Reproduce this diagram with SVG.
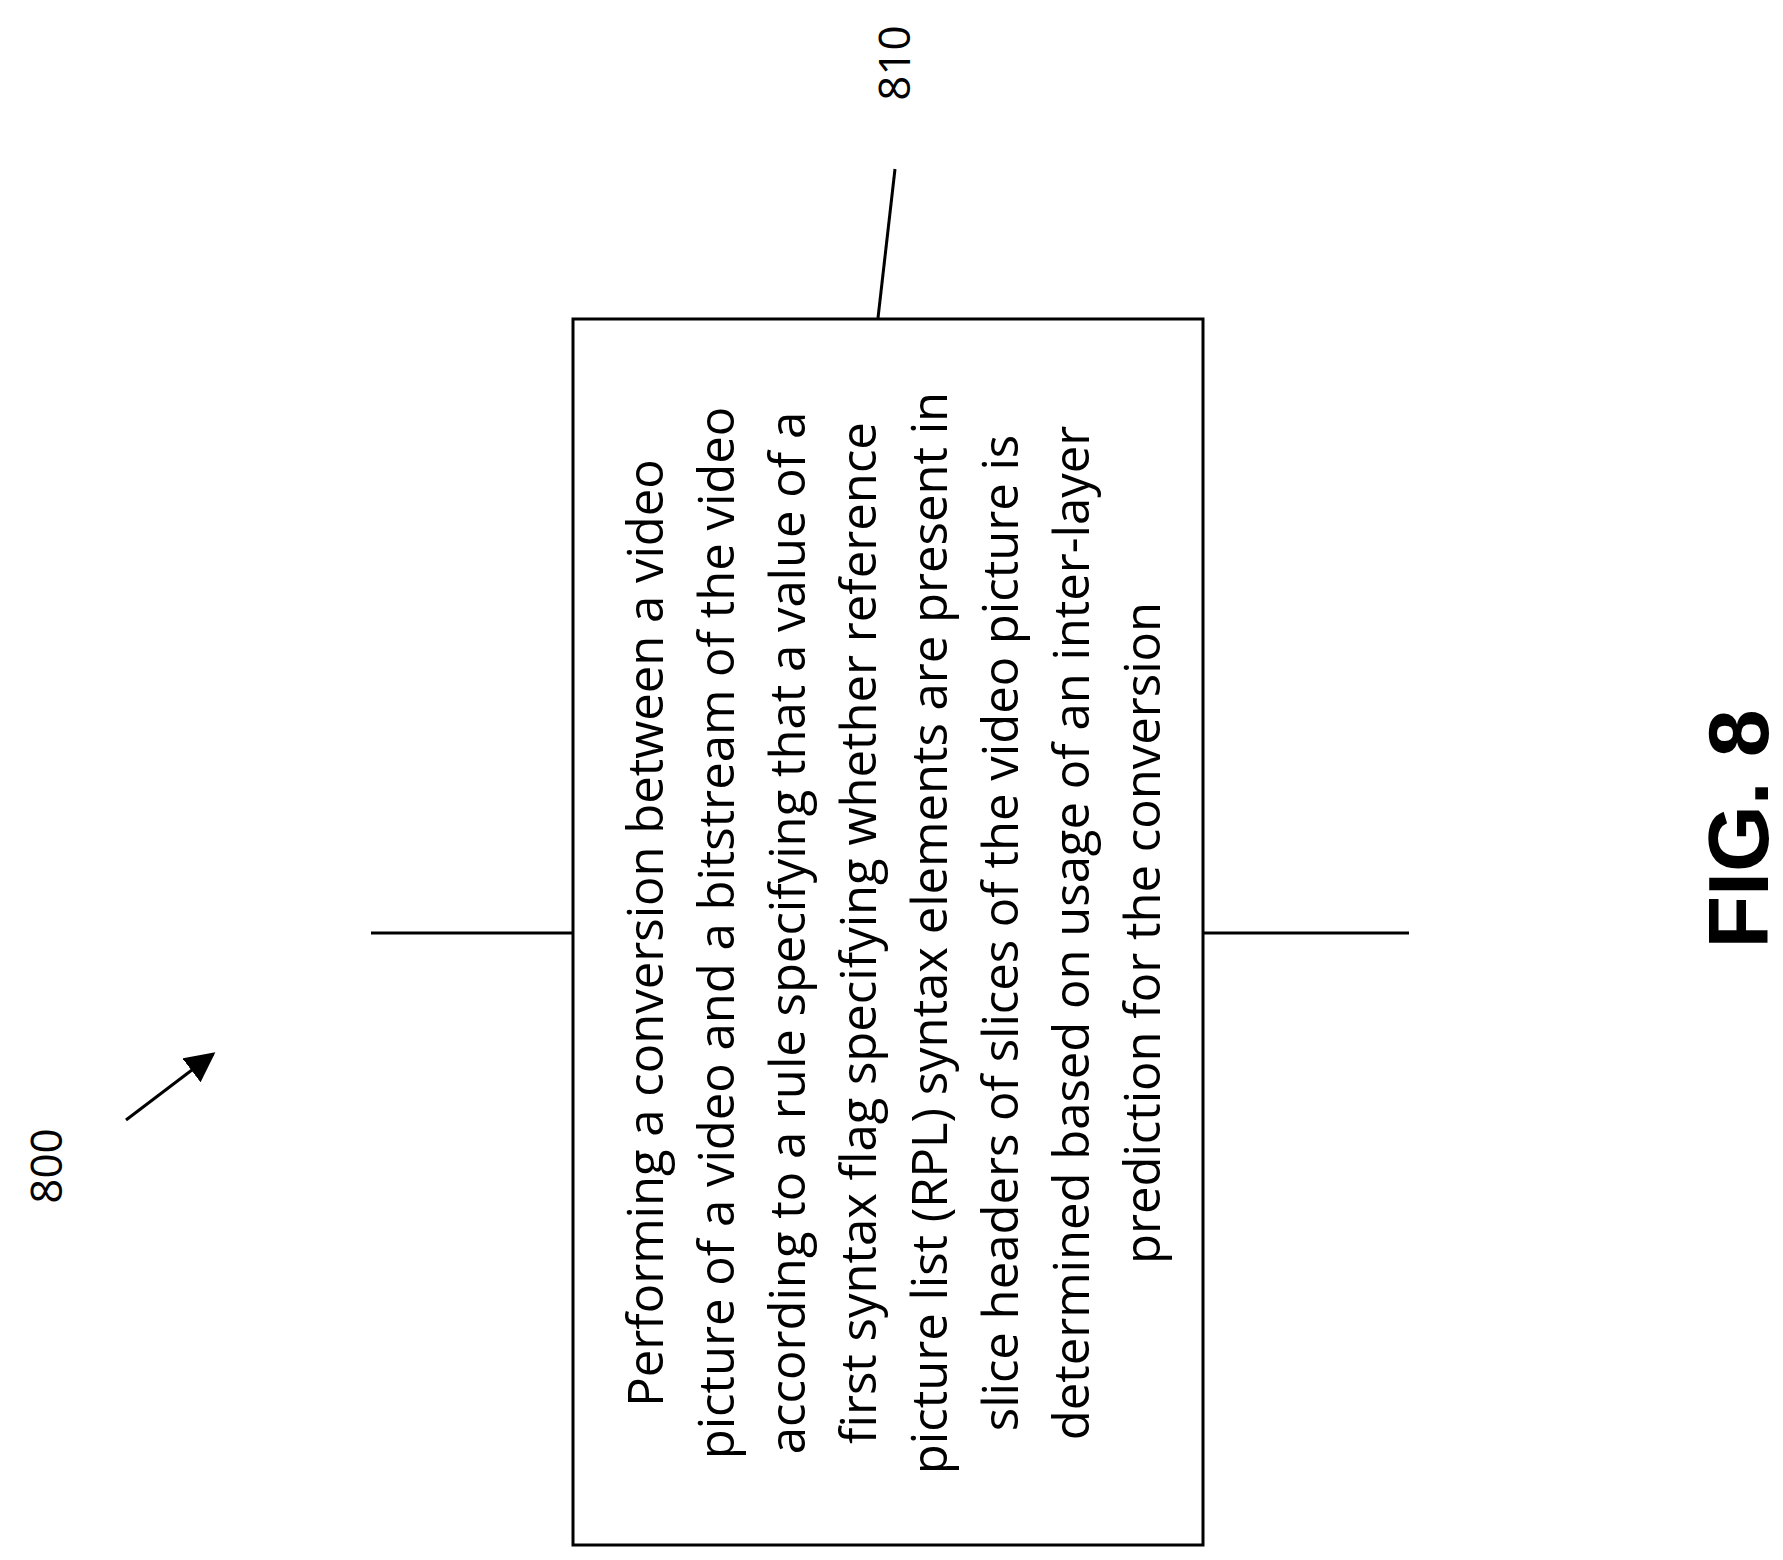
<svg xmlns="http://www.w3.org/2000/svg" width="1783" height="1560" viewBox="0 0 1783 1560">
<style>
.t{font-family:"Open Sans","DejaVu Sans",sans-serif;font-size:49px;fill:#000;text-anchor:middle}
.n{font-family:"Open Sans","DejaVu Sans",sans-serif;font-size:44px;fill:#000;text-anchor:middle}
.l{stroke:#000;stroke-width:3;fill:none}
</style>
<defs><marker id="ah" markerWidth="10" markerHeight="10" refX="9" refY="5" orient="auto" markerUnits="strokeWidth"><path d="M0,0 L10,5 L0,10 z" fill="#000"/></marker></defs>
<rect width="1783" height="1560" fill="#fff"/>
<g id="label800"><text class="n" transform="translate(62,1166) rotate(-90)">800</text></g>
<g id="label810"><text class="n" transform="translate(910,63) rotate(-90)">810</text></g>
<g id="node810">
<rect x="573" y="319" width="630" height="1226" class="l"/>
<g transform="translate(933,933) rotate(-90)">
<text class="t" x="0" y="-270">Performing a conversion between a video</text>
<text class="t" x="0" y="-199">picture of a video and a bitstream of the video</text>
<text class="t" x="0" y="-128">according to a rule specifying that a value of a</text>
<text class="t" x="0" y="-57">first syntax flag specifying whether reference</text>
<text class="t" x="0" y="14">picture list (RPL) syntax elements are present in</text>
<text class="t" x="0" y="85">slice headers of slices of the video picture is</text>
<text class="t" x="0" y="156">determined based on usage of an inter-layer</text>
<text class="t" x="0" y="227">prediction for the conversion</text>
</g>
</g>
<g id="fig"><text transform="translate(1768,829) rotate(-90)" style="font-family:'Liberation Sans',Arial,sans-serif;font-weight:bold;font-size:86px;text-anchor:middle">FIG. 8</text></g>
<g id="connectors">
<line x1="371" y1="933" x2="573" y2="933" class="l"/>
<line x1="1203" y1="933" x2="1409" y2="933" class="l"/>
<line x1="895" y1="169" x2="878" y2="318" class="l"/>
<line x1="126" y1="1120" x2="213" y2="1054" class="l" stroke-width="4" marker-end="url(#ah)"/>
</g>
</svg>
